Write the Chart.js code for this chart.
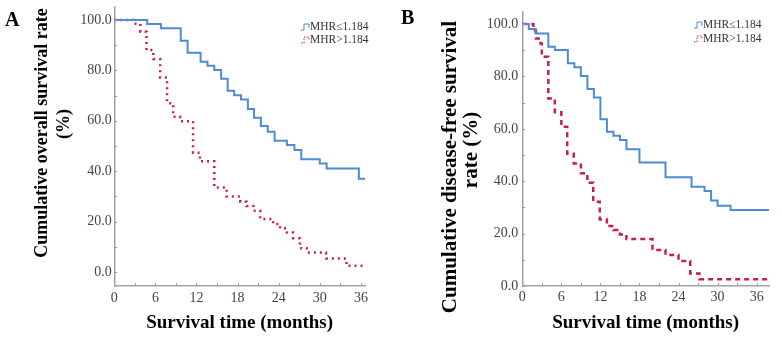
<!DOCTYPE html>
<html><head><meta charset="utf-8">
<script src="https://cdn.jsdelivr.net/npm/chart.js@4.4.1/dist/chart.umd.min.js"></script>
<style>
html,body{margin:0;padding:0;background:#fff;}
#wrap{position:relative;width:782px;height:339px;overflow:hidden;background:#fff;}
.p{position:absolute;top:0;width:391px;height:339px;}
</style></head><body>
<div id="wrap">
<div class="p" style="left:0"><canvas id="cA" width="391" height="339"></canvas></div>
<div class="p" style="left:391px"><canvas id="cB" width="391" height="339"></canvas></div>
</div>
<script>
// ---------- data ----------
const seriesNames = ['MHR\u22641.184', 'MHR>1.184'];
const xTickValues = [0,3,6,9,12,15,18,21,24,27,30,33,36];
const yTickValues = [0,10,20,30,40,50,60,70,80,90,100];

// Panel A: cumulative overall survival
const aLowTime  = [0,4.8,6.8,9.7,10.7,12.6,13.6,14.6,15.6,16.55,17.5,18.5,19.5,20.4,21.4,22.4,23.4,25.2,26.3,27.3,30.0,31.0,35.7,36.6];
const aLowSurv  = [100,98.4,96.8,91.8,87.0,83.5,81.9,80.2,76.7,71.9,70.2,68.5,64.7,61.2,57.9,55.7,52.1,50.4,48.4,44.7,43.0,41.1,37.0,37.0];
const aHighTime = [0,2.8,3.8,4.7,5.7,6.7,7.7,8.6,9.6,11.5,12.5,14.6,16.4,18.4,19.3,20.3,21.3,23.2,24.2,25.2,26.1,27.1,28.1,30.9,33.9,36.6];
const aHighSurv = [100,98.5,95.4,88.1,84.5,77.2,67.0,61.6,59.8,47.3,43.9,33.5,29.9,27.9,26.2,24.3,21.0,19.0,17.3,15.6,13.4,9.4,7.7,5.3,2.4,2.4];

// Panel B: cumulative disease-free survival
const bLowTime  = [0,1.0,2.05,4.0,5.0,7.0,8.0,9.0,10.0,11.0,12.0,13.0,14.0,15.0,16.0,18.0,22.0,26.0,28.0,29.0,30.0,32.0,37.9];
const bLowSurv  = [100,98.1,96.4,91.3,90.1,85.0,83.5,80.2,75.2,72.0,63.7,58.9,57.4,55.7,52.2,47.1,41.5,37.9,36.3,32.6,30.6,29.0,29.0];
const bHighTime = [0,1.7,2.1,2.8,3.0,4.0,5.0,6.0,6.9,7.9,9.0,10.0,10.9,11.9,13.0,14.0,15.0,16.0,20.0,22.0,24.0,25.8,27.2,37.9];
const bHighSurv = [100,97.5,94.5,92.6,87.5,71.6,66.3,60.8,50.5,46.8,43.0,39.4,32.2,25.4,22.9,21.4,19.7,17.9,13.7,11.8,9.5,4.8,2.6,2.6];

// ---------- styling ----------
const SERIF = '"Liberation Serif","Times New Roman",serif';
const BLUE = '#4f8ad6';
const RED = '#c91d52';
const AXIS = '#a3a3a3';

function zip(t, v){ return t.map((x,i)=>({x:x, y:v[i]})); }

const extras = {
  id: 'extras',
  afterDraw(chart, args, o){
    const {ctx, chartArea:a, scales:{x, y}} = chart;
    ctx.save();
    // inner tick marks
    ctx.strokeStyle = AXIS; ctx.lineWidth = 1;
    xTickValues.forEach(v=>{
      const px = Math.round(x.getPixelForValue(v)) + 0.5;
      ctx.beginPath(); ctx.moveTo(px, a.bottom); ctx.lineTo(px, a.bottom - 3); ctx.stroke();
    });
    yTickValues.forEach(v=>{
      const py = Math.round(y.getPixelForValue(v)) + 0.5;
      ctx.beginPath(); ctx.moveTo(a.left, py); ctx.lineTo(a.left + 3, py); ctx.stroke();
    });
    // panel letter
    ctx.fillStyle = '#000';
    ctx.font = 'bold 20px ' + SERIF;
    ctx.textBaseline = 'alphabetic'; ctx.textAlign = 'left';
    ctx.fillText(o.letter, o.letterX, o.letterY);
    // y title
    o.yTitle.forEach(t=>{
      ctx.save();
      ctx.translate(t.x, t.y); ctx.rotate(-Math.PI/2);
      ctx.font = 'bold ' + t.size + 'px ' + SERIF;
      ctx.textAlign = 'center'; ctx.textBaseline = 'middle';
      ctx.fillText(t.text, 0, 0);
      ctx.restore();
    });
    // legend
    ctx.font = '11.5px ' + SERIF;
    ctx.textAlign = 'left'; ctx.textBaseline = 'middle';
    chart.data.datasets.forEach((ds, i)=>{
      const ly = o.legY[i], lx = o.legX;
      ctx.strokeStyle = ds.borderColor; ctx.lineWidth = 1;
      ctx.setLineDash(ds.borderDash && ds.borderDash.length ? [1.5,1.5] : []);
      ctx.beginPath();
      ctx.moveTo(lx - 9, ly + 3); ctx.lineTo(lx - 6, ly + 3); ctx.lineTo(lx - 6, ly - 3);
      ctx.lineTo(lx - 1, ly - 3); ctx.lineTo(lx - 1, ly + 1);
      ctx.stroke();
      ctx.setLineDash([]);
      ctx.fillStyle = '#333';
      ctx.fillText(ds.label, lx, ly);
    });
    ctx.restore();
  }
};

function makeChart(id, g){
  return new Chart(document.getElementById(id), {
    type: 'line',
    data: { datasets: [
      { label: seriesNames[0], data: zip(g.lowT, g.lowS), borderColor: BLUE, borderWidth: 2,
        stepped: true, pointRadius: 0, fill: false, borderDash: [] },
      { label: seriesNames[1], data: zip(g.highT, g.highS), borderColor: RED, borderWidth: 2.5,
        stepped: true, pointRadius: 0, fill: false, borderDash: g.dash }
    ]},
    options: {
      responsive: false, animation: false, devicePixelRatio: 1,
      layout: { padding: { left: 0, right: g.right, top: g.top, bottom: 0 } },
      plugins: { legend: { display: false }, tooltip: { enabled: false },
        extras: g.extras },
      scales: {
        x: {
          type: 'linear', min: 0, max: g.xMax,
          afterBuildTicks: s => { s.ticks = xTickValues.map(v=>({value:v})); },
          afterFit: s => { s.height = 339 - g.bottom; s.paddingLeft = 0; s.paddingRight = 0; },
          ticks: { padding: g.xPad, color: '#444', font: { family: SERIF, size: 14 },
            maxRotation: 0, autoSkip: false,
            callback: v => (v % 6 === 0 ? String(v) : '') },
          grid: { display: false, drawTicks: false },
          border: { display: true, color: AXIS, width: 1.5 },
          title: { display: true, text: 'Survival time (months)', color: '#000',
            font: { family: SERIF, size: 19, weight: 'bold' }, padding: { top: 0, bottom: 4.6 } }
        },
        y: {
          type: 'linear', min: g.yMin, max: g.yMax,
          afterBuildTicks: s => { s.ticks = yTickValues.map(v=>({value:v})); },
          afterFit: s => { s.width = g.left; s.paddingTop = 0; s.paddingBottom = 0; },
          ticks: { padding: g.yPad, color: '#444', font: { family: SERIF, size: 14 }, autoSkip: false,
            callback: v => (v % 20 === 0 ? v.toFixed(1) : '') },
          grid: { display: false, drawTicks: false },
          border: { display: true, color: AXIS, width: 1.5 }
        }
      }
    },
    plugins: [extras]
  });
}

makeChart('cA', {
  lowT: aLowTime, lowS: aLowSurv, highT: aHighTime, highS: aHighSurv, dash: [2,4],
  left: 114.3, right: 26, top: 7, bottom: 286, xMax: 36.6, yMin: -5.6, yMax: 105.2, xPad: 4, yPad: 2.5,
  extras: { letter: 'A', letterX: 5, letterY: 26,
    yTitle: [ { text: 'Cumulative overall survival rate', x: 42, y: 133, size: 18 },
              { text: '(%)', x: 64, y: 124, size: 18 } ],
    legX: 310, legY: [27, 40] }
});
makeChart('cB', {
  lowT: bLowTime, lowS: bLowSurv, highT: bHighTime, highS: bHighSurv, dash: [5,4],
  left: 131.3, right: 13, top: 12, bottom: 286, xMax: 37.9, yMin: 0, yMax: 104.6, xPad: 3, yPad: 4,
  extras: { letter: 'B', letterX: 10, letterY: 24,
    yTitle: [ { text: 'Cumulative disease-free survival', x: 60, y: 167, size: 21 },
              { text: 'rate (%)', x: 81, y: 150, size: 21 } ],
    legX: 312, legY: [25, 39] }
});
</script>
</body></html>
